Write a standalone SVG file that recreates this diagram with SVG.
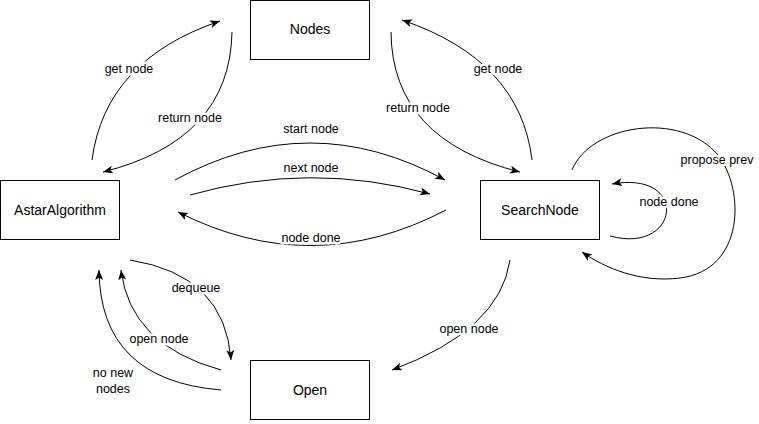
<svg xmlns="http://www.w3.org/2000/svg" width="759" height="424" viewBox="0 0 759 424">
<style>
  .box { fill: #ffffff; stroke: #000000; stroke-width: 1; }
  .ntext { font-family: "Liberation Sans", Arial, sans-serif; font-size: 14px; fill: #000; text-anchor: middle; }
  .edge { fill: none; stroke: #000000; stroke-width: 1; marker-end: url(#arrow); }
  .elabel { font-family: "Liberation Sans", Arial, sans-serif; font-size: 12.5px; fill: #000; text-anchor: middle; stroke: #ffffff; stroke-width: 5px; stroke-linejoin: round; paint-order: stroke; }
</style>
<defs>
  <marker id="arrow" markerUnits="userSpaceOnUse" markerWidth="12" markerHeight="10" refX="10" refY="4" orient="auto" viewBox="0 0 12 10">
    <path d="M0,0 L10,4 L0,8 L2.5,4 Z" fill="#000000"/>
  </marker>
</defs>
<rect width="759" height="424" fill="#ffffff"/>
<g id="connectors">
  <g id="e-get-node-left">
    <path class="edge" d="M 92 160 Q 105 60 220 21"/>
    <text class="elabel" x="129" y="73">get node</text>
  </g>
  <g id="e-return-node-left">
    <path class="edge" d="M 232 32 Q 230 140 103 172"/>
    <text class="elabel" x="190" y="122">return node</text>
  </g>
  <g id="e-get-node-right">
    <path class="edge" d="M 532 160 Q 520 60 402 20"/>
    <text class="elabel" x="498" y="73">get node</text>
  </g>
  <g id="e-return-node-right">
    <path class="edge" d="M 391 32 Q 392 140 520 172"/>
    <text class="elabel" x="418" y="112">return node</text>
  </g>
  <g id="e-start-node">
    <path class="edge" d="M 175 180 Q 310 106 445 180"/>
    <text class="elabel" x="311" y="133">start node</text>
  </g>
  <g id="e-next-node">
    <path class="edge" d="M 190 195 Q 310 161 430 194"/>
    <text class="elabel" x="311" y="172">next node</text>
  </g>
  <g id="e-node-done">
    <path class="edge" d="M 446 210 Q 312 280 178 212"/>
    <text class="elabel" x="311" y="242">node done</text>
  </g>
  <g id="e-node-done-self">
    <path class="edge" d="M 610 236 C 680 255 690 170 612 184"/>
    <text class="elabel" x="669" y="206">node done</text>
  </g>
  <g id="e-propose-prev">
    <path class="edge" d="M 572 170 C 590 125 680 110 718 155 C 745 190 745 270 680 278 C 640 283 605 268 582 252"/>
    <text class="elabel" x="717" y="164">propose prev</text>
  </g>
  <g id="e-open-node-right">
    <path class="edge" d="M 510 260 Q 500 330 392 370"/>
    <text class="elabel" x="469" y="333">open node</text>
  </g>
  <g id="e-dequeue">
    <path class="edge" d="M 130 260 Q 225 275 231 360"/>
    <text class="elabel" x="196" y="292">dequeue</text>
  </g>
  <g id="e-open-node-left">
    <path class="edge" d="M 221 370 Q 130 345 121 270"/>
    <text class="elabel" x="159" y="343">open node</text>
  </g>
  <g id="e-no-new-nodes">
    <path class="edge" d="M 221 390 Q 100 380 99 270"/>
    <text class="elabel" x="113" y="377">no new</text>
    <text class="elabel" x="113" y="393">nodes</text>
  </g>
</g>
<g id="node-nodes">
  <rect class="box" x="250.5" y="0.5" width="119" height="59"/>
  <text class="ntext" x="310" y="34">Nodes</text>
</g>
<g id="node-astar">
  <rect class="box" x="0.5" y="180.5" width="119" height="59"/>
  <text class="ntext" x="60" y="215">AstarAlgorithm</text>
</g>
<g id="node-searchnode">
  <rect class="box" x="480.5" y="180.5" width="119" height="59"/>
  <text class="ntext" x="540" y="215">SearchNode</text>
</g>
<g id="node-open">
  <rect class="box" x="250.5" y="360.5" width="119" height="59"/>
  <text class="ntext" x="310" y="395">Open</text>
</g>
</svg>
